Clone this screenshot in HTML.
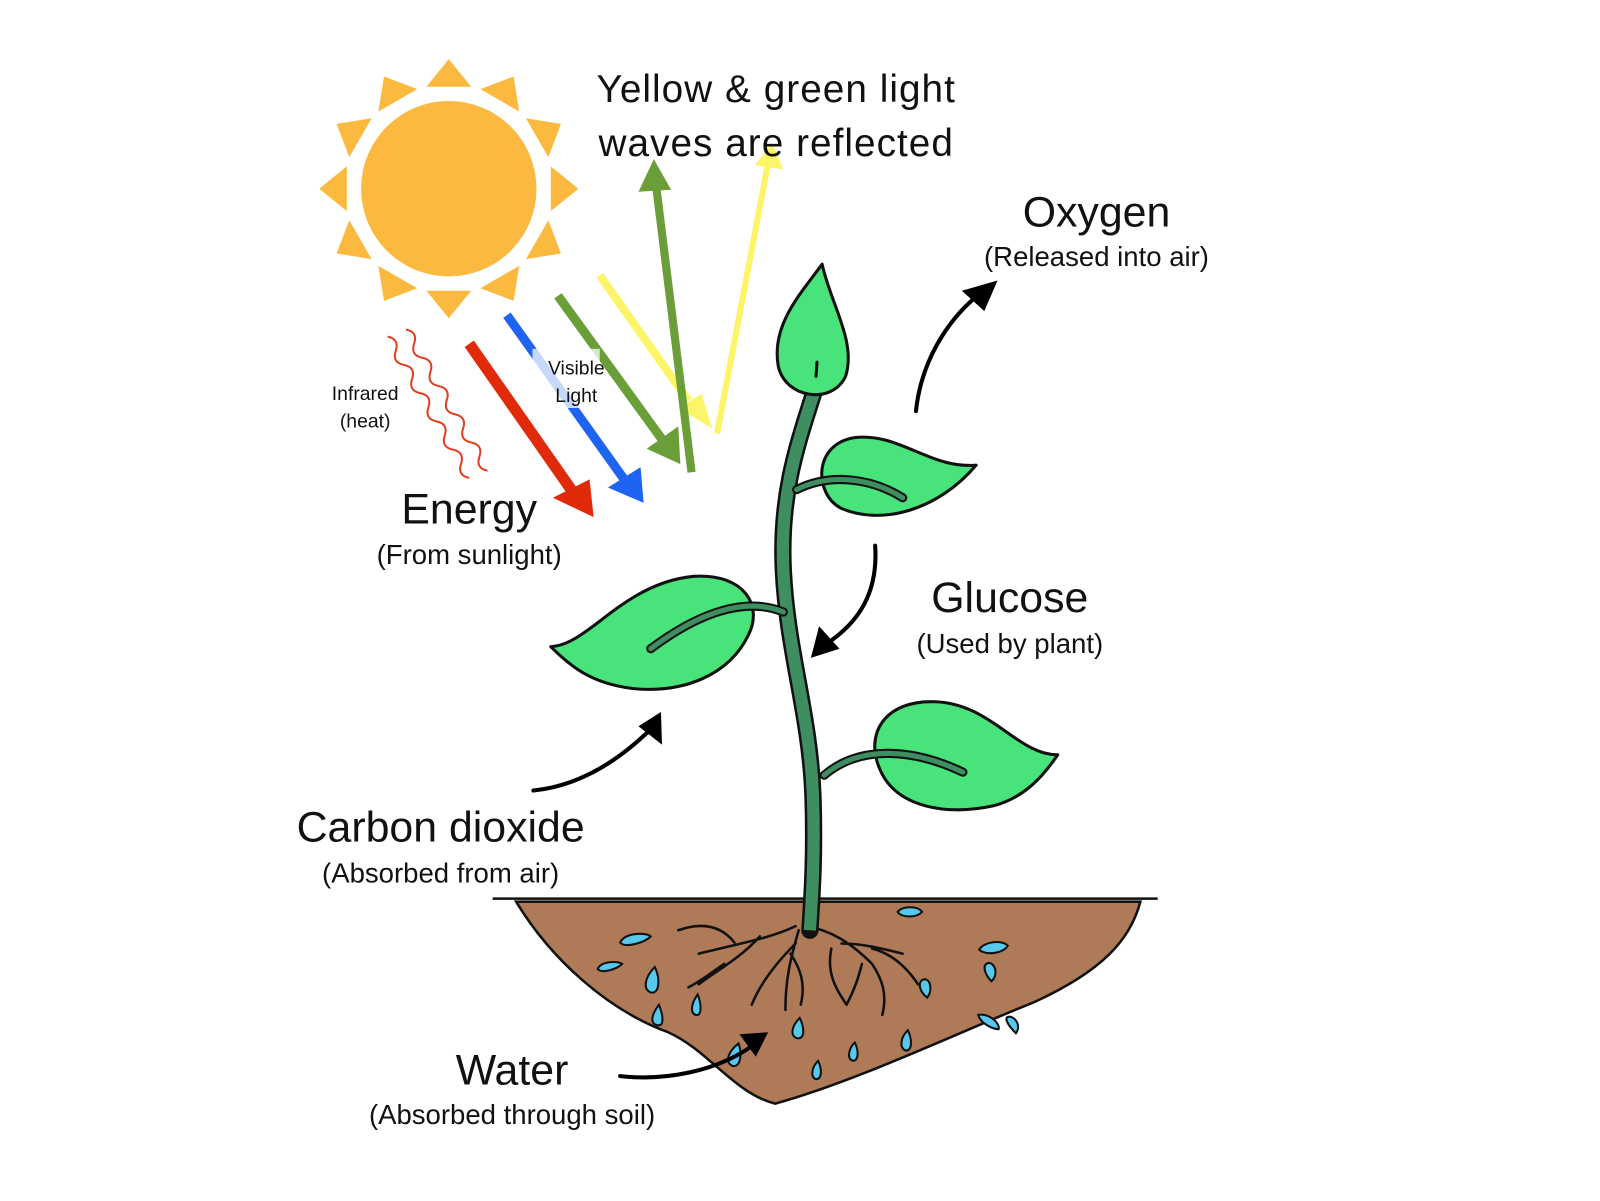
<!DOCTYPE html>
<html><head><meta charset="utf-8"><style>
html,body{margin:0;padding:0;background:#fff;}
svg{display:block;}
text{font-family:"Liberation Sans",sans-serif;fill:#111;}
</style></head><body>
<svg width="1600" height="1201" viewBox="0 0 1600 1201" xmlns="http://www.w3.org/2000/svg">
<g transform="scale(1.02)">
<!-- Sun -->
<g transform="translate(440,185)" fill="#FBB93F">
<circle r="86"/>
<g id="ray"><polygon points="-22,-100 22,-100 0,-127"/></g>
<use href="#ray" transform="rotate(30)"/><use href="#ray" transform="rotate(60)"/><use href="#ray" transform="rotate(90)"/>
<use href="#ray" transform="rotate(120)"/><use href="#ray" transform="rotate(150)"/><use href="#ray" transform="rotate(180)"/>
<use href="#ray" transform="rotate(210)"/><use href="#ray" transform="rotate(240)"/><use href="#ray" transform="rotate(270)"/>
<use href="#ray" transform="rotate(300)"/><use href="#ray" transform="rotate(330)"/>
</g>
<!-- infrared waves -->
<g fill="none" stroke="#E0401E" stroke-width="2">
<path transform="translate(380,330) rotate(60)" d="M0,0 q8,-9 16,0 t16,0 t16,0 t16,0 t16,0 t16,0 t16,0 t16,0 t16,0 t16,0"/>
<path transform="translate(398,323) rotate(60)" d="M0,0 q8,-9 16,0 t16,0 t16,0 t16,0 t16,0 t16,0 t16,0 t16,0 t16,0 t16,0"/>
</g>
<!-- light arrows -->
<line x1="460" y1="337" x2="560" y2="480" stroke="#E02A0A" stroke-width="11"/>
<polygon points="542,488 578,470 582,507" fill="#E02A0A"/>
<line x1="497" y1="309" x2="612" y2="470" stroke="#1E64F0" stroke-width="9"/>
<polygon points="596,478 628,458 631,493" fill="#1E64F0"/>
<line x1="547" y1="290" x2="650" y2="432" stroke="#6A9E38" stroke-width="9"/>
<polygon points="634,440 665,418 667,455" fill="#6A9E38"/>
<line x1="588" y1="270" x2="675" y2="393" stroke="#FCF56A" stroke-width="8"/>
<polygon points="665,400 688,386 698,420" fill="#FCF56A"/>
<line x1="678" y1="463" x2="643" y2="180" stroke="#6A9E38" stroke-width="8"/>
<polygon points="626,188 641,156 658,186" fill="#6A9E38"/>
<line x1="703" y1="425" x2="753" y2="160" stroke="#FCF56A" stroke-width="6"/>
<polygon points="740,162 757,140 768,166" fill="#FCF56A"/>
<rect x="522" y="342" width="66" height="58" fill="#fff" opacity="0.75"/>
<!-- Soil -->
<path d="M506,884 C540,940 595,990 655,1012 C695,1030 720,1072 760,1082 C840,1060 940,1012 1015,982 C1080,952 1108,922 1118,884 Z" fill="#AE7A58" stroke="#111" stroke-width="2.5"/>
<line x1="483" y1="881" x2="1135" y2="881" stroke="#111" stroke-width="2.5"/>
<g transform="translate(-15,0)">
<g fill="none" stroke="#111" stroke-width="2.5" stroke-linecap="round">
<path d="M795,908 C770,920 740,925 700,935 M735,924 C720,905 700,905 680,912 M760,918 C740,940 720,950 700,965 M725,945 C710,955 705,960 690,968"/>
<path d="M798,912 C790,940 785,960 785,990 M790,935 C800,950 805,965 800,985 M795,925 C775,945 760,965 752,985"/>
<path d="M805,908 C830,912 850,925 870,945 C880,960 885,975 880,995 M840,925 C860,925 880,930 900,935 M830,930 C825,955 835,970 845,985 M860,945 C855,965 850,975 845,985 M870,930 C890,935 905,950 915,965"/>
</g>
</g>
<!-- water drops -->
<g fill="#55C8EC" stroke="#111" stroke-width="2" transform="translate(-6,0)">
<path d="M614,924 c5,-10 25,-10 30,-6 c-6,6 -25,12 -30,6z"/>
<path d="M592,950 c3,-8 20,-8 24,-5 c-5,5 -20,10 -24,5z"/>
<path d="M886,894 c5,-6 20,-6 24,0 c-5,6 -20,6 -24,0z"/>
<path d="M966,931 c5,-8 22,-10 28,-4 c-4,8 -22,10 -28,4z"/>
<path d="M648,948 c-10,10 -12,22 -4,25 c8,2 10,-12 4,-25z"/>
<path d="M690,975 c-6,8 -8,18 -2,20 c6,2 6,-10 2,-20z"/>
<path d="M652,985 c-6,8 -10,18 -2,20 c8,2 6,-10 2,-20z"/>
<path d="M730,1023 c-10,8 -14,18 -6,22 c8,2 10,-12 6,-22z"/>
<path d="M790,998 c-8,8 -10,18 -2,20 c8,0 6,-12 2,-20z"/>
<path d="M808,1040 c-6,6 -8,16 -2,18 c6,0 6,-10 2,-18z"/>
<path d="M844,1022 c-6,6 -8,16 -2,18 c6,0 6,-10 2,-18z"/>
<path d="M896,1010 c-8,8 -8,18 -2,20 c7,0 6,-12 2,-20z"/>
<path d="M915,978 c-8,-6 -10,-16 -3,-18 c7,0 8,12 3,18z"/>
<path d="M978,962 c-6,-6 -10,-16 -3,-18 c7,0 10,12 3,18z"/>
<path d="M1002,1013 c-6,-6 -12,-14 -8,-16 c6,-2 14,8 8,16z"/>
<path d="M965,995 c10,-2 22,8 20,14 c-6,0 -18,-6 -20,-14z"/>
</g>
<!-- stem -->
<g transform="translate(-16,0)">
<path d="M818,372 C800,430 780,480 784,560 C788,640 810,700 813,780 C815,840 812,880 810,912" fill="none" stroke="#111" stroke-width="17" stroke-linecap="round"/>
<path d="M818,372 C800,430 780,480 784,560 C788,640 810,700 813,780 C815,840 812,880 810,912" fill="none" stroke="#3E8E62" stroke-width="12"/>
</g>
<!-- leaves -->
<g fill="#48E37A" stroke="#111" stroke-width="3" stroke-linejoin="round">
<path transform="translate(-16,-3)" d="M822,262 C800,292 772,322 779,362 C786,394 832,400 845,372 C856,338 830,300 822,262 Z"/>
<path transform="translate(-18,4)" d="M975,452 C930,456 900,420 856,425 C815,431 816,480 842,494 C882,512 938,496 975,452 Z"/>
<path transform="translate(-12,12)" d="M552,622 C590,620 622,560 692,553 C742,550 760,582 746,610 C727,650 682,668 632,663 C592,658 572,642 552,622 Z"/>
<path transform="translate(-3,0)" d="M1040,740 C1000,740 975,690 920,688 C870,686 850,720 866,755 C882,792 932,800 977,790 C1007,782 1025,762 1040,740 Z"/>
</g>
<g fill="none" stroke-linecap="round">
<g transform="translate(-17,2)">
<path d="M798,478 C830,462 870,466 902,486" stroke="#111" stroke-width="9"/>
<path d="M798,478 C830,462 870,466 902,486" stroke="#3E8E62" stroke-width="5"/>
</g>
<g transform="translate(-14,0)">
<path d="M782,600 C745,585 700,600 652,636" stroke="#111" stroke-width="9"/>
<path d="M782,600 C745,585 700,600 652,636" stroke="#3E8E62" stroke-width="5"/>
</g>
<g transform="translate(-14,-3)">
<path d="M822,763 C855,735 905,735 958,760" stroke="#111" stroke-width="9"/>
<path d="M822,763 C855,735 905,735 958,760" stroke="#3E8E62" stroke-width="5"/>
</g>
<path d="M800,369 L801,355" stroke="#111" stroke-width="3"/>
</g>
<!-- black curved arrows -->
<g transform="translate(-17,0)">
<g fill="none" stroke="#000" stroke-width="4" stroke-linecap="round">
<path d="M915,403 C920,355 945,315 975,290"/>
<path d="M875,535 C878,580 860,610 826,632"/>
<path d="M540,775 C590,770 630,740 658,712"/>
<path d="M625,1055 C670,1060 720,1050 755,1025"/>
</g>
<polygon points="995,275 960,285 982,305" fill="#000"/>
<polygon points="812,645 820,614 840,636" fill="#000"/>
<polygon points="665,698 643,712 666,730" fill="#000"/>
<polygon points="770,1012 742,1014 758,1036" fill="#000"/>
</g>
<!-- text -->
<g text-anchor="middle">
<text x="761" y="100" font-size="38" font-family="Liberation Serif" style="letter-spacing:1px">Yellow &amp; green light</text>
<text x="761" y="153" font-size="38" font-family="Liberation Serif" style="letter-spacing:1px">waves are reflected</text>
<text x="1075" y="222" font-size="42">Oxygen</text>
<text x="1075" y="261" font-size="27">(Released into air)</text>
<text x="460" y="513" font-size="42">Energy</text>
<text x="460" y="553" font-size="27">(From sunlight)</text>
<text x="990" y="600" font-size="42">Glucose</text>
<text x="990" y="640" font-size="27">(Used by plant)</text>
<text x="432" y="825" font-size="42">Carbon dioxide</text>
<text x="432" y="865" font-size="27">(Absorbed from air)</text>
<text x="502" y="1063" font-size="42">Water</text>
<text x="502" y="1102" font-size="27">(Absorbed through soil)</text>
<text x="358" y="392" font-size="19">Infrared</text>
<text x="358" y="419" font-size="19">(heat)</text>
<text x="565" y="367" font-size="19">Visible</text>
<text x="565" y="394" font-size="19">Light</text>
</g>
</g>
</svg>
</body></html>
